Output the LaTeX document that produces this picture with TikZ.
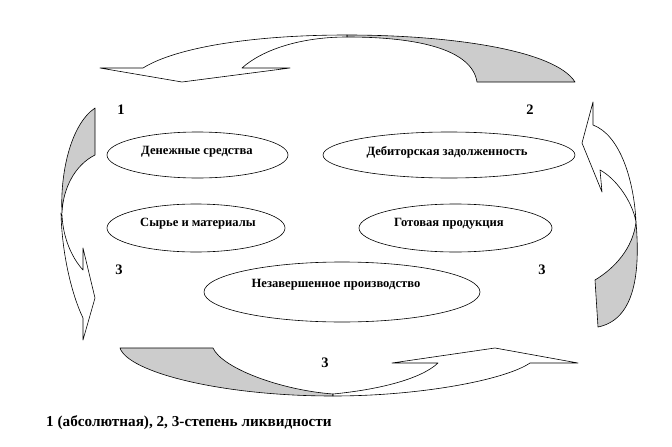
\documentclass[tikz,border=0pt]{standalone}
\usepackage{fontspec}
\setmainfont{Liberation Serif}
\begin{document}
\begin{tikzpicture}[x=1pt,y=-1pt,
  band/.style={draw=black,line width=0.6pt,line join=round},
  tailpart/.style={band,fill=black!20},
  headpart/.style={band,fill=white},
  asset/.style={draw=black,line width=0.6pt,fill=white},
  assettext/.style={font=\fontsize{12.6}{12.6}\selectfont\bfseries},
  num/.style={font=\fontsize{14.5}{14.5}\selectfont\bfseries,inner sep=0pt}]
\useasboundingbox (0,0) rectangle (672,447);

% ---- ellipses ----
\draw[asset] (197.5,155) ellipse [x radius=90.5, y radius=23];
\draw[asset] (449,155) ellipse [x radius=126, y radius=23];
\draw[asset] (196,228) ellipse [x radius=89, y radius=24];
\draw[asset] (455.5,228) ellipse [x radius=96.5, y radius=24];
\draw[asset] (342,292) ellipse [x radius=138, y radius=30];

\node[assettext] (ds) at (197,152) {Денежные средства};
\node[assettext] (dz) at (447,152) {Дебиторская задолженность};
\node[assettext] (sm) at (198,224) {Сырье и материалы};
\node[assettext] (gp) at (449,224) {Готовая продукция};
\node[assettext] (np) at (336,285) {Незавершенное производство};

% ---- top arrow ----
\draw[tailpart] (347,35) .. controls (450,35) and (555,50) .. (575,82)
  -- (477,82) .. controls (472,50) and (420,37) .. (347,37) -- cycle;
\draw[headpart] (100,68) -- (143,68) .. controls (175,48) and (250,35) .. (347,35)
  -- (347,37) .. controls (300,37) and (262,50) .. (242,68) -- (290,68) -- (182,82) -- cycle;

% ---- left arrow ----
\draw[tailpart] (95,108) -- (95,155) .. controls (75,165) and (63,188) .. (62,213)
  .. controls (60,175) and (70,125) .. (95,108) -- cycle;
\draw[headpart] (61,213) .. controls (62,255) and (72,295) .. (83,318) -- (83,340)
  -- (95,298) -- (83,248) -- (83,270) .. controls (72,258) and (63,238) .. (62,215) -- cycle;

% ---- right arrow ----
\draw[headpart] (593,102) -- (593,125) .. controls (620,135) and (634,180) .. (636,222)
  .. controls (632,200) and (615,178) .. (600,170) -- (602,192) -- (582,143) -- cycle;
\draw[tailpart] (636,222) .. controls (641,280) and (632,320) .. (598,327) -- (595,280)
  .. controls (615,268) and (633,248) .. (636,222) -- cycle;

% ---- bottom arrow ----
\draw[tailpart] (120,348) -- (213,348) .. controls (222,368) and (280,390) .. (333,394)
  -- (333,396) .. controls (220,396) and (128,372) .. (120,348) -- cycle;
\draw[headpart] (333,396) .. controls (420,396) and (505,380) .. (530,363) -- (578,363)
  -- (495,348) -- (392,363) -- (438,363) .. controls (420,380) and (375,390) .. (333,394) -- cycle;

% ---- numbers ----
\node[num] (n1) at (121,110) {1};
\node[num] (n2) at (530,110) {2};
\node[num] (n3a) at (119,270) {3};
\node[num] (n3b) at (542,270) {3};
\node[num] (n3c) at (325,363) {3};

% ---- caption ----
\node[anchor=west,inner sep=0pt,font=\fontsize{15.2}{15.2}\selectfont\bfseries] (cap) at (46,423)
  {1 (абсолютная), 2, 3-степень ликвидности};
\end{tikzpicture}
\end{document}
